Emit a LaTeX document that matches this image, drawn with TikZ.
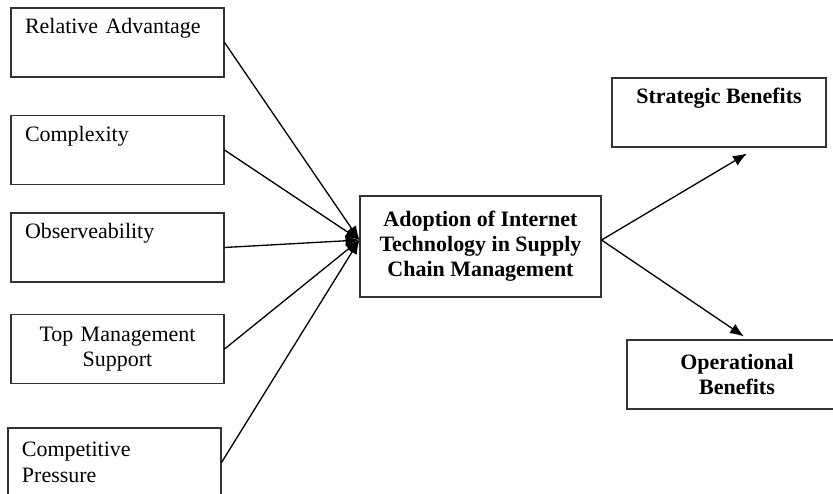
\documentclass[tikz,border=0pt]{standalone}
\usepackage{fontspec}
\setmainfont{Liberation Serif}
\usetikzlibrary{arrows.meta}

\begin{document}
\begin{tikzpicture}[
  box/.style={draw=black!80, line width=0.6pt, minimum height=1.38cm, font=\fontsize{12.5}{14.5}\selectfont},
  factor/.style={box, text width=3.7cm, inner xsep=0.28cm, align=left},
  result/.style={box, minimum width=4.28cm, align=center, font=\fontsize{12.5}{14.5}\selectfont\bfseries},
  link/.style={line width=0.75pt, -{Latex[length=2.8mm, width=2.2mm]}}]
\useasboundingbox (0,0) rectangle (16.66,9.86);
\node[factor] (RA) at (2.35, 9.01) {Relative Advantage\\ \strut};
\node[factor] (CX) at (2.35, 6.86) {Complexity\\ \strut};
\node[factor] (OB) at (2.35, 4.91) {Observeability\\ \strut};
\node[factor, align=center] (TM) at (2.35, 2.88) {Top Management\\ Support};
\node[factor] (CP) at (2.29, 0.61) {Competitive\\ Pressure};
\node[box, minimum width=4.82cm, minimum height=2.02cm, align=center, font=\fontsize{12.5}{14.2}\selectfont\bfseries] (AD) at (9.61, 4.93)
  {Adoption of Internet\\ Technology in Supply\\ Chain Management};
\node[result] (SB) at (14.38, 7.61) {Strategic Benefits\\ \strut};
\node[result, minimum width=4.4cm] (OP) at (14.74, 2.37) {Operational\\ Benefits};
\coordinate (in) at ([yshift=1.3mm]AD.west);
\coordinate (out) at ([yshift=1.3mm]AD.east);
\draw[link] (RA.east) -- (in);
\draw[link] (CX.east) -- (in);
\draw[link] (OB.east) -- (in);
\draw[link] (TM.east) -- (in);
\draw[link] (CP.east) -- (in);
\draw[link] (out) -- ([xshift=5.6mm, yshift=-1.2mm]SB.south);
\draw[link] (out) -- ([xshift=1.4mm, yshift=0.6mm]OP.north);
\end{tikzpicture}
\end{document}
